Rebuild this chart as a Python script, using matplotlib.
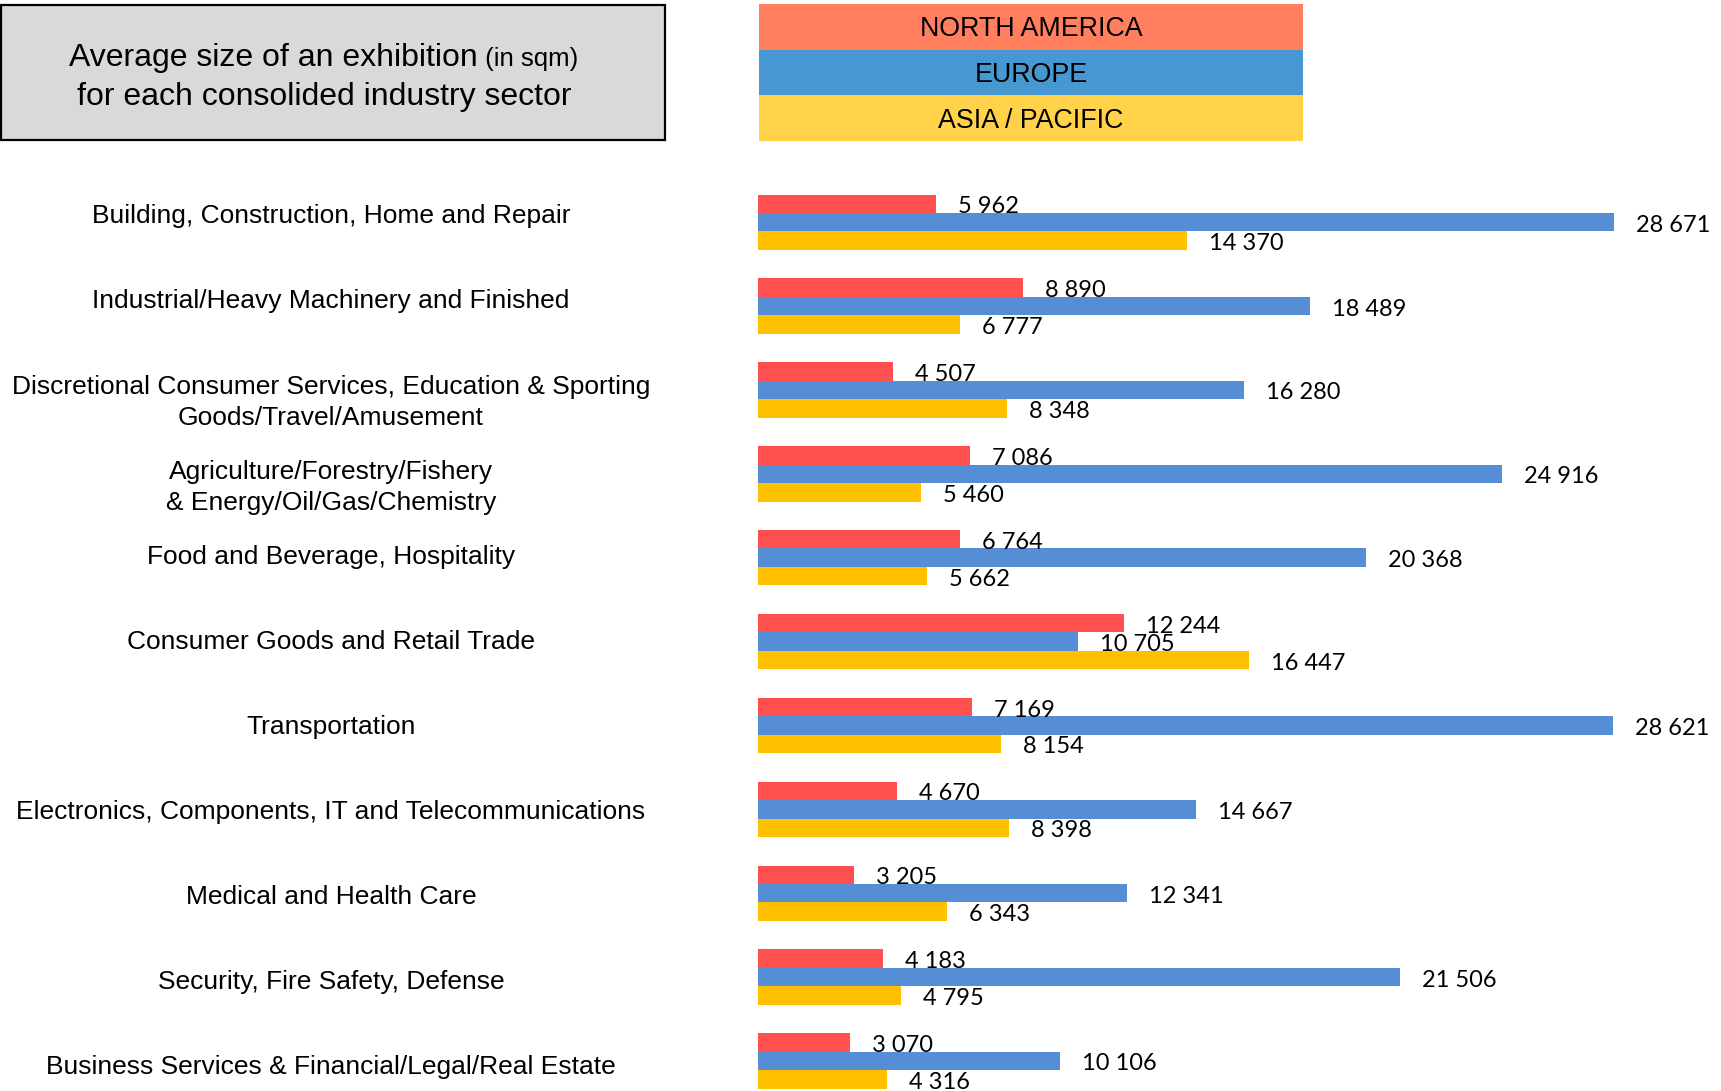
import numpy as np
import matplotlib.pyplot as plt
from matplotlib.patches import Rectangle

sectors = [
    "Building, Construction, Home and Repair",
    "Industrial/Heavy Machinery and Finished",
    "Discretional Consumer Services, Education & Sporting\nGoods/Travel/Amusement",
    "Agriculture/Forestry/Fishery\n& Energy/Oil/Gas/Chemistry",
    "Food and Beverage, Hospitality",
    "Consumer Goods and Retail Trade",
    "Transportation",
    "Electronics, Components, IT and Telecommunications",
    "Medical and Health Care",
    "Security, Fire Safety, Defense",
    "Business Services & Financial/Legal/Real Estate",
]
north_america = [5962, 8890, 4507, 7086, 6764, 12244, 7169, 4670, 3205, 4183, 3070]
europe = [28671, 18489, 16280, 24916, 20368, 10705, 28621, 14667, 12341, 21506, 10106]
asia_pacific = [14370, 6777, 8348, 5460, 5662, 16447, 8154, 8398, 6343, 4795, 4316]
regions = ["NORTH AMERICA", "EUROPE", "ASIA / PACIFIC"]
bar_colors = ["#FF5050", "#558ED5", "#FFC000"]
legend_colors = ["#FF7F5F", "#4797D0", "#FFD24A"]

W, H = 1721, 1091
fig = plt.figure(figsize=(W / 100, H / 100), dpi=100)

# background axes in pixel units for the header box and the colour banner
bg = fig.add_axes([0, 0, 1, 1])
bg.set_xlim(0, W)
bg.set_ylim(H, 0)
bg.axis("off")

bg.add_patch(Rectangle((1, 5), 664, 135, facecolor="#D9D9D9", edgecolor="black", lw=1.6))
t1 = bg.text(69, 66, "Average size of an exhibition", ha="left", va="baseline",
             fontsize=23, family="Liberation Sans")
bg.annotate(" (in sqm)", xy=(1, 66), xycoords=(t1, "data"), ha="left", va="baseline",
            fontsize=18.5, family="Liberation Sans")
bg.text(324, 105, "for each consolided industry sector", ha="center", va="baseline",
        fontsize=23, family="Liberation Sans")

band = 45.6
for j, (name, col) in enumerate(zip(regions, legend_colors)):
    bg.add_patch(Rectangle((759, 4 + j * band), 544, band, facecolor=col, edgecolor="none"))
    bg.text(1031, 4 + j * band + band / 2 + 2.5, name, ha="center", va="center",
            fontsize=19.3, family="Liberation Sans")

# bars
ax = fig.add_axes([758 / W, 0, 1 - 758 / W, (H - 180) / H])
y = np.arange(len(sectors))
h = 0.22
for k, (vals, col) in enumerate(zip([north_america, europe, asia_pacific], bar_colors)):
    bars = ax.barh(y + (k - 1) * h, vals, height=h, color=col)
    for b, v in zip(bars, vals):
        ax.annotate(f"{v:,}".replace(",", " "), (v, b.get_y() + h / 2),
                    xytext=(22, -3), textcoords="offset pixels",
                    ha="left", va="center", fontsize=17, family="Lato")
ax.set_xlim(0, 32250)
ax.set_ylim(10.358, -0.503)
ax.axis("off")

# sector names: first line sits on the row, extra lines hang below
lab = fig.add_axes([0, 0, 758 / W, (H - 180) / H])
lab.set_xlim(0, 758)
lab.set_ylim(10.3055, -0.3995)
lab.axis("off")
step = 32 / 85.1
for i, s in enumerate(sectors):
    extra = s.count("\n")
    lab.text(331, i + 0.108 + extra * step, s, ha="center", va="baseline",
             multialignment="center", fontsize=19, family="Liberation Sans",
             linespacing=1.4)

fig.savefig("out.png", dpi=100)
